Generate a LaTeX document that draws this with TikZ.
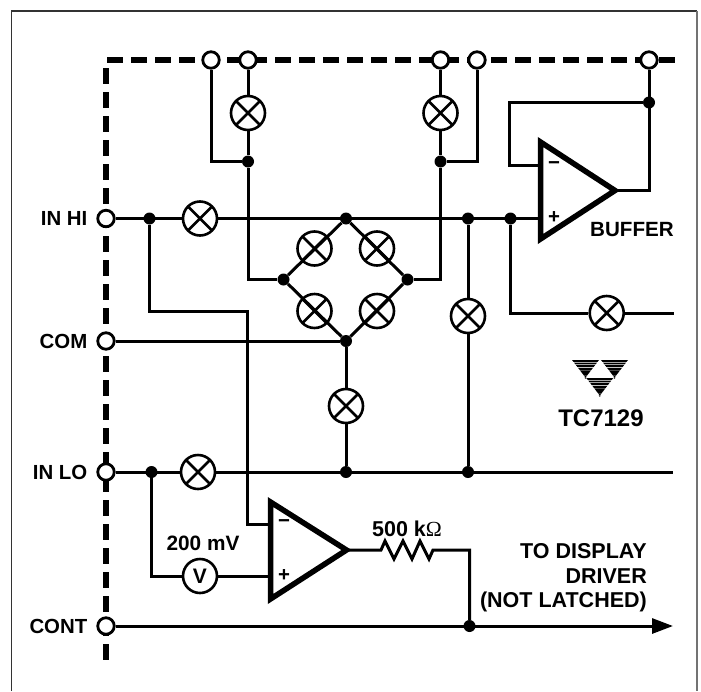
\documentclass[tikz,border=0pt]{standalone}
\usepackage{fontspec}
\setmainfont{Liberation Sans}
\newfontfamily\omegafont{Liberation Serif}
\usetikzlibrary{arrows.meta,backgrounds}
\tikzset{
 x=1pt,y=-1pt,
 wire/.style={line width=3pt,line join=miter},
 dashline/.style={line width=5.4pt,dash pattern=on 16pt off 8pt},
 amp/.style={line width=5.5pt,line join=miter,miter limit=10,fill=white},
 crossed/.style={path picture={\draw[line width=2.7pt] (path picture bounding box.north west) -- (path picture bounding box.south east)
     (path picture bounding box.north east) -- (path picture bounding box.south west);}},
 swt/.style={circle,draw,line width=2.6pt,minimum size=34pt,inner sep=0pt,fill=white,crossed},
 dsw/.style={circle,draw,line width=2.6pt,minimum size=34pt,inner sep=0pt,crossed},
 vm/.style={circle,draw,line width=2.6pt,minimum size=34pt,inner sep=0pt,fill=white,font=\bfseries\fontsize{21}{24}\selectfont},
 pin/.style={circle,draw,line width=2.8pt,minimum size=16.5pt,inner sep=0pt,fill=white},
 dot/.style={circle,fill=black,minimum size=12pt,inner sep=0pt},
 lab/.style={font=\bfseries\fontsize{20.4}{24}\selectfont,inner sep=0pt},
}
\begin{document}
\begin{tikzpicture}
\useasboundingbox (0,0) rectangle (701,691);
% pins
\node[pin] (t1) at (211,60) {}; \node[pin] (t2) at (248,60) {};
\node[pin] (t3) at (440.5,60) {}; \node[pin] (t4) at (477,60) {};
\node[pin] (t5) at (649,60) {};
\node[pin] (hi) at (106,218.5) {}; \node[pin] (com) at (106,341) {};
\node[pin] (lo) at (106,472) {}; \node[pin] (cont) at (106,626) {};
% switches
\node[swt] (s1) at (248,113) {}; \node[swt] (s2) at (440.5,113) {};
\node[swt] (s3) at (200,218.5) {};
\node[dsw] (d1) at (314.5,248.5) {}; \node[dsw] (d2) at (377,248.5) {};
\node[dsw] (d3) at (314.5,311) {}; \node[dsw] (d4) at (377,311) {};
\node[swt] (s4) at (468,316) {}; \node[swt] (s5) at (606.7,313) {};
\node[swt] (s6) at (346,406) {}; \node[swt] (s7) at (198,472) {};
\node[vm] (v) at (200,576) {V};
% junctions
\node[dot] (j1) at (248,161.5) {}; \node[dot] (j2) at (440.5,161.5) {};
\node[dot] (j3) at (149.5,218.5) {}; \node[dot] (j4) at (346,218.5) {};
\node[dot] (j5) at (468,218.5) {}; \node[dot] (j6) at (510.5,218.5) {};
\node[dot] (j7) at (346,341) {}; \node[dot] (j8) at (346,472) {};
\node[dot] (j9) at (468,472) {}; \node[dot] (j10) at (151.5,472) {};
\node[dot] (j11) at (649,102.5) {}; \node[dot] (j12) at (469.5,626) {};
\node[dot] (dl) at (283.5,279.5) {}; \node[dot] (dr) at (407.5,279.5) {};
% free ends and bends
\coordinate (sout) at (674,313); \coordinate (loend) at (673,472);
\coordinate (arrend) at (673,626);
\coordinate (dtop) at (676,60); \coordinate (dtl) at (107,60);
\coordinate (dlt) at (106,68); \coordinate (dbot) at (106,660);
\coordinate (r0) at (381,550); \coordinate (r1) at (433,550); \coordinate (rout) at (469.5,550);
\coordinate (ba) at (540.5,142); \coordinate (bb) at (540.5,239); \coordinate (bc) at (615,190.5);
\coordinate (la) at (270.5,502); \coordinate (lb) at (270.5,599); \coordinate (lc) at (346.5,550);
\coordinate (bm) at (540,165); \coordinate (bp) at (540,218.5);
\coordinate (lm) at (270,524); \coordinate (lp) at (270,576);
\coordinate (c1) at (247,311.5); \coordinate (c2) at (247,524);
\coordinate (c3) at (649,190.5); \coordinate (c4) at (509.5,165);
\begin{scope}[on background layer]
% frame: the page cuts it off below
\draw[line width=1.4pt,black!80] (11.7,691) -- (11.7,11) -- (697,11);
\draw[line width=2.4pt,black!55] (697,11) -- (697,691);
% dashed boundary
\draw[dashline] (dtl) -- (dtop);
\draw[dashline] (dlt) -- (dbot);
% wires
\begin{scope}[wire]
\draw (t1) |- (j1);
\draw (t2) -- (j1);
\draw (t3) -- (j2);
\draw (t4) |- (j2);
\draw (j1) |- (dl);
\draw (j2) |- (dr);
\draw (dl) -- (j4) -- (dr) -- (j7) -- (dl);
\draw (hi) -- (bp);
\draw (j3) |- (c1) -- (c2) -- (lm);
\draw (com) -- (j7);
\draw (j7) -- (j8);
\draw (lo) -- (loend);
\draw (j5) -- (j9);
\draw (j6) |- (s5); \draw (s5) -- (sout);
\draw (j10) |- (v); \draw (v) -- (lp);
\draw (j11) -| (c4) -- (bm);
\draw (bc) -- (c3) -- (t5);
\draw (lc) -- (r0) -- (385,541) -- (394,559) -- (403,541) -- (412,559) -- (420,541) -- (429,559) -- (r1) -- (rout) -- (j12);
\draw[-{Triangle[length=21pt,width=15pt]}] (cont) -- (arrend);
\end{scope}
\end{scope}
% op amps
\draw[amp] (ba) -- (bb) -- (bc) -- cycle;
\draw[amp] (la) -- (lb) -- (lc) -- cycle;
\node[lab] (bminus) at (554,166) {−}; \node[lab] (bplus) at (554,218) {+};
\node[lab] (lminus) at (284,524) {−}; \node[lab] (lplus) at (284,576) {+};
% labels
\node[lab,anchor=east] (tlhi) at (87.5,218.5) {IN HI};
\node[lab,anchor=east] (tlcom) at (87.5,341) {COM};
\node[lab,anchor=east] (tllo) at (87.5,472) {IN LO};
\node[lab,anchor=east] (tlcont) at (87.5,626) {CONT};
\node[lab,font=\bfseries\fontsize{20.6}{24}\selectfont] (tbuf) at (632,230) {BUFFER};
\node[lab,font=\bfseries\fontsize{24}{28}\selectfont] (tchip) at (601,418) {TC7129};
\node[lab,font=\bfseries\fontsize{20.8}{24}\selectfont] (tmv) at (203,543) {200 mV};
\node[lab,font=\bfseries\fontsize{21.5}{24}\selectfont] (tk) at (407,529) {500 k{\omegafont\mdseries Ω}};
\node[lab,font=\bfseries\fontsize{21.5}{24.5}\selectfont,align=right,anchor=east] (tdrv) at (647,578) {TO DISPLAY\\DRIVER\\(NOT LATCHED)};
% logo
\foreach \ox/\oy in {572/360,601/360,586.3/378}{
 \foreach \i/\h in {0/1.8,1/1.8,2/1.8,3/2.2,4/2.6,5/2.6,6/2.8}{
  \pgfmathsetmacro\yy{\oy+\i*2.6}
  \pgfmathsetmacro\xa{\ox+\i*2.0}
  \pgfmathsetmacro\xb{\ox+27-\i*2.0}
  \fill (\xa,\yy) -- (\xb,\yy) -- ({\xb-\h*0.77},{\yy+\h}) -- ({\xa+\h*0.77},{\yy+\h}) -- cycle;
 }
 \fill ({\ox+13.5-1.2},{\oy+17.5}) -- ({\ox+13.5+1.2},{\oy+17.5}) -- ({\ox+13.5},{\oy+18.5}) -- cycle;
}
\end{tikzpicture}
\end{document}
